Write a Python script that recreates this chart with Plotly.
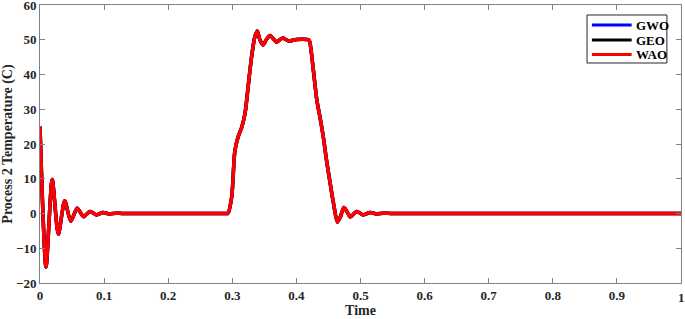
import plotly.graph_objects as go

time_pts = [0, 0.0094, 0.019, 0.0286, 0.0385, 0.048, 0.058, 0.068, 0.078, 0.088, 0.098,
            0.108, 0.118, 0.13, 0.2, 0.28, 0.29, 0.293, 0.299, 0.304, 0.309, 0.315, 0.320, 0.325,
            0.330, 0.335, 0.339, 0.343, 0.348, 0.353, 0.359, 0.364, 0.369, 0.374, 0.379,
            0.384, 0.389, 0.40, 0.419, 0.421, 0.426, 0.432, 0.437, 0.442, 0.447, 0.452,
            0.458, 0.464, 0.469, 0.474, 0.479, 0.484, 0.494, 0.504, 0.515, 0.525, 0.535,
            0.55, 0.7, 0.85, 1.0]
wao = [25, -15.4, 9.8, -6, 3.7, -2.2, 1.5, -0.9, 0.6, -0.4, 0.3,
       -0.15, 0.1, 0, 0, 0, 0, 0, 4.7, 18, 22, 25, 29, 37,
       45, 50.7, 52.5, 50, 48.5, 50, 51.2, 50.3, 49.3, 50, 50.5,
       50, 49.6, 50.1, 50, 49.3, 42, 32.5, 27.5, 22, 15.3, 9.5,
       2.8, -2.5, -0.8, 1.7, 0.5, -1.0, 0.6, -0.4, 0.3, -0.15, 0.1,
       0, 0, 0, 0]
gwo = list(wao)
geo = list(wao)

x_ticks = [0, 0.1, 0.2, 0.3, 0.4, 0.5, 0.6, 0.7, 0.8, 0.9, 1]
x_tick_labels = ["0", "0.1", "0.2", "0.3", "0.4", "0.5", "0.6", "0.7", "0.8", "0.9", "1"]
y_ticks = [-20, -10, 0, 10, 20, 30, 40, 50, 60]

series_names = ["GWO", "GEO", "WAO"]
series_values = [gwo, geo, wao]
series_colors = ["#0000ff", "#000000", "#ff0000"]

fig = go.Figure()
for name, vals, col in zip(series_names, series_values, series_colors):
    fig.add_trace(go.Scatter(x=time_pts, y=vals, mode="lines", name=name, showlegend=False,
                             line=dict(color=col, width=3.5, shape="spline", smoothing=0.7)))

font_family = "Liberation Serif"
tick_font = dict(family=font_family, size=13, color="#262626", weight="bold")
axis_common = dict(showline=True, linecolor="#808080", linewidth=1, mirror="ticks",
                   ticks="inside", ticklen=5, tickcolor="#808080", showgrid=False,
                   zeroline=False, automargin=False, ticklabeloverflow="allow",
                   tickfont=tick_font)

# manual legend (box, line samples, labels) in paper coordinates
leg_x0, leg_x1, leg_y0, leg_y1 = 0.8534, 0.978, 0.7914, 0.964
line_x0, line_x1, text_x = 0.861, 0.923, 0.927
row_y = [0.928, 0.874, 0.822]
shapes = [dict(type="rect", xref="paper", yref="paper", x0=leg_x0, x1=leg_x1, y0=leg_y0, y1=leg_y1,
               line=dict(color="#262626", width=1), fillcolor="white", layer="above")]
annotations = []
for name, col, ry in zip(series_names, series_colors, row_y):
    shapes.append(dict(type="line", xref="paper", yref="paper", x0=line_x0, x1=line_x1, y0=ry, y1=ry,
                       line=dict(color=col, width=3), layer="above"))
    annotations.append(dict(xref="paper", yref="paper", x=text_x, y=ry, xanchor="left", yanchor="middle",
                            text=name, showarrow=False,
                            font=dict(family=font_family, size=13, color="#000000", weight="bold")))

# last x tick label (plotly drops it at the very edge), placed at the axis end
annotations.append(dict(xref="x", yref="paper", x=x_ticks[-1], y=0, xanchor="center", yanchor="top",
                        yshift=-5, text=x_tick_labels[-1], showarrow=False, font=tick_font))

fig.update_layout(
    width=685, height=319,
    margin=dict(l=40, r=4, t=5, b=36),
    plot_bgcolor="white", paper_bgcolor="white",
    font=dict(family=font_family, color="#262626"),
    xaxis=dict(range=[0, 1], tickmode="array", tickvals=x_ticks[:-1], ticktext=x_tick_labels[:-1],
               title=dict(text="Time", font=dict(family=font_family, size=14, weight="bold"), standoff=2),
               **axis_common),
    yaxis=dict(range=[-20, 60], tickmode="array", tickvals=y_ticks,
               title=dict(text="Process 2 Temperature (C)", font=dict(family=font_family, size=14, weight="bold"), standoff=4),
               **axis_common),
    shapes=shapes,
    annotations=annotations,
    showlegend=False,
)

fig.write_html("out.html", config={"displayModeBar": False},
               post_script="document.body.style.margin='0';document.body.style.overflow='hidden';")
